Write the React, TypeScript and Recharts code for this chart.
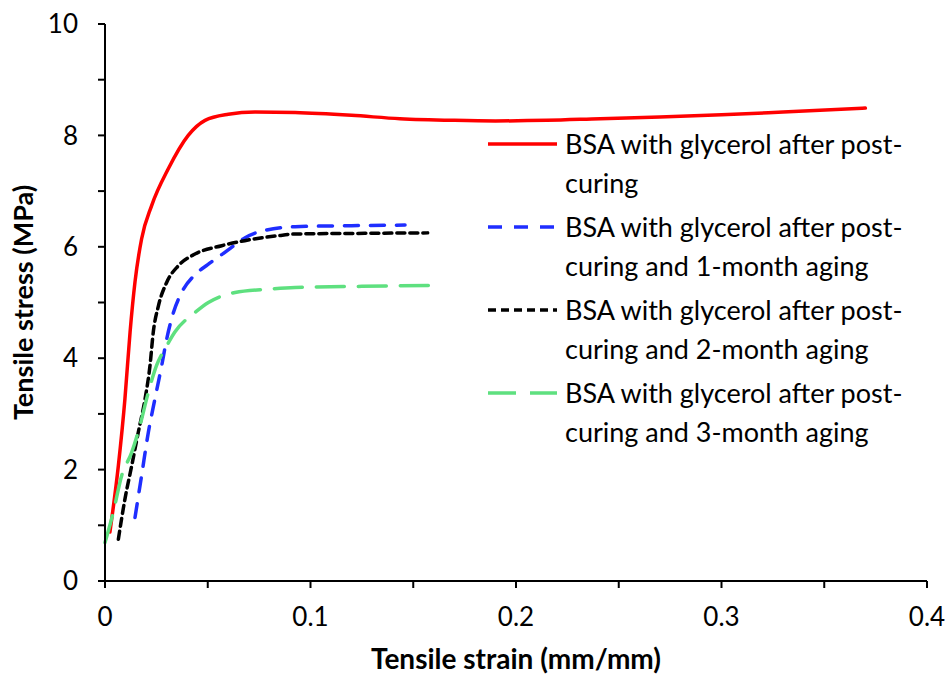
import React from "react";
import { LineChart, Line, XAxis, YAxis, Label } from "recharts";

const fullCuredStrain = [0.0024, 0.0065, 0.0097, 0.0122, 0.0146, 0.0178, 0.0227, 0.0308, 0.0405, 0.0487, 0.06, 0.073, 0.0925, 0.12, 0.1435, 0.17, 0.19, 0.215, 0.241, 0.27, 0.3, 0.33, 0.37];
const fullCuredStress = [0.88, 2.07, 3.27, 4.47, 5.37, 6.14, 6.74, 7.4, 8.0, 8.27, 8.38, 8.42, 8.41, 8.36, 8.3, 8.27, 8.26, 8.27, 8.3, 8.33, 8.37, 8.42, 8.49];

const oneMonthStrain = [0.0146, 0.0178, 0.0211, 0.0243, 0.0276, 0.03, 0.0333, 0.0373, 0.0438, 0.05, 0.0568, 0.063, 0.068, 0.075, 0.0925, 0.12, 0.146];
const oneMonthStress = [1.14, 1.89, 2.67, 3.27, 3.87, 4.34, 4.82, 5.18, 5.5, 5.68, 5.86, 6.03, 6.16, 6.27, 6.36, 6.38, 6.39];

const twoMonthStrain = [0.0065, 0.0097, 0.013, 0.0162, 0.0195, 0.0219, 0.0235, 0.026, 0.03, 0.0357, 0.0438, 0.0568, 0.068, 0.0843, 0.0925, 0.12, 0.157];
const twoMonthStress = [0.75, 1.47, 2.07, 2.67, 3.27, 3.87, 4.47, 4.94, 5.36, 5.66, 5.87, 6.02, 6.11, 6.2, 6.23, 6.24, 6.25];

const threeMonthStrain = [0, 0.004, 0.0081, 0.013, 0.017, 0.0211, 0.0251, 0.03, 0.034, 0.0438, 0.0503, 0.0633, 0.0795, 0.0925, 0.125, 0.163];
const threeMonthStress = [0.69, 1.23, 1.89, 2.31, 2.79, 3.39, 3.87, 4.22, 4.47, 4.82, 5.0, 5.18, 5.24, 5.27, 5.29, 5.31];

const xTicks = [0, 0.05, 0.1, 0.15, 0.2, 0.25, 0.3, 0.35, 0.4];
const yTicks = [0, 1, 2, 3, 4, 5, 6, 7, 8, 9, 10];

const seriesNames = [
  ["BSA with glycerol after post-", "curing"],
  ["BSA with glycerol after post-", "curing and 1-month aging"],
  ["BSA with glycerol after post-", "curing and 2-month aging"],
  ["BSA with glycerol after post-", "curing and 3-month aging"],
];

const toPoints = (xs: number[], ys: number[]) => xs.map((x, i) => ({ strain: x, stress: ys[i] }));

const series = [
  { key: "cured", data: toPoints(fullCuredStrain, fullCuredStress), color: "#ff0000", dash: undefined, name: seriesNames[0] },
  { key: "m1", data: toPoints(oneMonthStrain, oneMonthStress), color: "#1f2eff", dash: "14 12", name: seriesNames[1] },
  { key: "m2", data: toPoints(twoMonthStrain, twoMonthStress), color: "#000000", dash: "8 5", name: seriesNames[2] },
  { key: "m3", data: toPoints(threeMonthStrain, threeMonthStress), color: "#5ee07f", dash: "28 14", name: seriesNames[3] },
];

const font = "Lato, 'Open Sans', sans-serif";

// legend drawn as an overlay so the plot keeps its full width
function LegendBox() {
  return (
    <div
      style={{
        position: "absolute",
        left: 486,
        top: 124,
        fontFamily: font,
        fontSize: 27,
        lineHeight: "39px",
        color: "#000",
      }}
    >
      {series.map((s) => (
        <div key={s.key} style={{ display: "flex", alignItems: "flex-start", marginBottom: 5 }}>
          <svg width={79} height={39} style={{ flexShrink: 0 }}>
            <line x1={2} y1={20} x2={71} y2={20} stroke={s.color} strokeWidth={3.5} strokeDasharray={s.dash} />
          </svg>
          <div>
            <div>{s.name[0]}</div>
            <div>{s.name[1]}</div>
          </div>
        </div>
      ))}
    </div>
  );
}

export default function App() {
  return (
    <div style={{ position: "absolute", left: 0, top: 0, width: 950, height: 677, background: "#fff" }}>
      <LineChart width={950} height={677} margin={{ top: 24, right: 23, left: 0, bottom: 0 }}>
        <XAxis
          type="number"
          dataKey="strain"
          domain={[0, 0.4]}
          ticks={xTicks}
          tickFormatter={(v: number) => (Math.round(v * 100) % 10 === 0 ? String(Number(v.toFixed(1))) : "")}
          stroke="#000"
          strokeWidth={2}
          tickSize={7}
          tickMargin={20}
          height={96}
          tick={{ fill: "#000", fontSize: 26, fontFamily: font }}
        >
          <Label
            value="Tensile strain (mm/mm)"
            position="insideBottom"
            offset={8}
            style={{ fontFamily: font, fontSize: 28, fontWeight: 700, fill: "#000" }}
          />
        </XAxis>
        <YAxis
          type="number"
          dataKey="stress"
          domain={[0, 10]}
          ticks={yTicks}
          tickFormatter={(v: number) => (v % 2 === 0 ? String(v) : "")}
          stroke="#000"
          strokeWidth={2}
          tickSize={7}
          tickMargin={20}
          width={105}
          tick={{ fill: "#000", fontSize: 26, fontFamily: font }}
        >
          <Label
            content={({ viewBox }: any) => {
              const cx = 22;
              const cy = viewBox.y + viewBox.height / 2;
              return (
                <text
                  x={cx}
                  y={cy}
                  transform={`rotate(-90 ${cx} ${cy})`}
                  textAnchor="middle"
                  dominantBaseline="central"
                  style={{ fontFamily: font, fontSize: 27, fontWeight: 700, fill: "#000" }}
                >
                  Tensile stress (MPa)
                </text>
              );
            }}
          />
        </YAxis>
        {series.map((s) => (
          <Line
            key={s.key}
            data={s.data}
            dataKey="stress"
            type="monotone"
            stroke={s.color}
            strokeWidth={3.5}
            strokeDasharray={s.dash}
            strokeLinecap="round"
            dot={false}
            activeDot={false}
            isAnimationActive={false}
          />
        ))}
      </LineChart>
      <LegendBox />
    </div>
  );
}
